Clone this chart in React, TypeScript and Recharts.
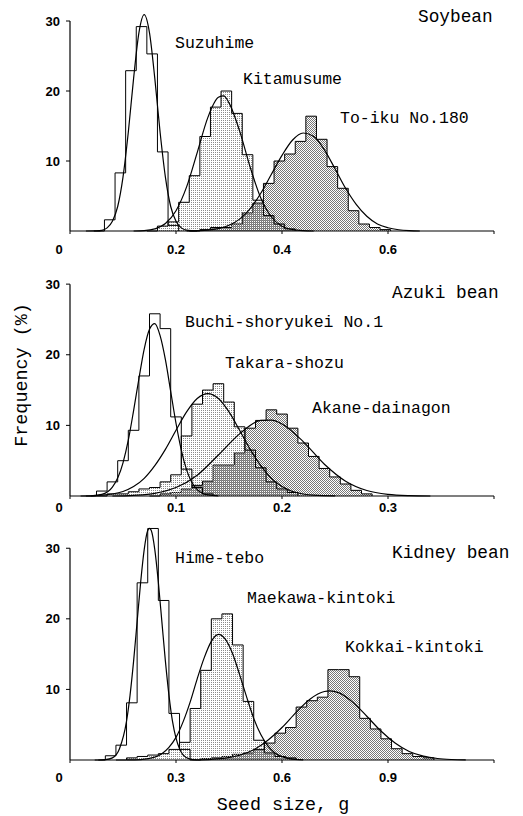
import React from 'react';
import { ComposedChart, Area, Line, XAxis, YAxis, ReferenceLine } from 'recharts';

// ---------- Panel 1: Soybean (bin width 0.02 g) ----------
const SOY_BIN = 0.02;
const suzuhimeStart = 0.045;
const suzuhimeFreq = [0, 1.6, 8.3, 22.9, 29.2, 25.3, 11.3, 0.8];
const kitamusumeStart = 0.145;
const kitamusumeFreq = [0, 0.7, 1.3, 4.1, 7.9, 13.5, 17.7, 20.0, 16.8, 10.9, 4.4, 2.2, 1.0, 0.3];
const toikuStart = 0.225;
const toikuFreq = [0, 0.2, 0.5, 0.5, 1.0, 2.6, 4.0, 6.8, 10.0, 11.0, 12.8, 16.4, 13.1, 9.2, 6.1, 2.9, 1.0, 0.5, 0.2];

const suzuhimeCurve: [number, number][] = [[0.03, 0], [0.05, 0.02], [0.06, 0.1], [0.07, 0.45], [0.08, 1.4], [0.09, 3.5], [0.10, 7.7], [0.11, 14.1], [0.12, 21.8], [0.13, 28.3], [0.14, 30.9], [0.15, 28.3], [0.16, 21.8], [0.17, 14.1], [0.18, 7.7], [0.19, 3.5], [0.20, 1.4], [0.21, 0.45], [0.22, 0.12], [0.24, 0.01]];
const kitamusumeCurve: [number, number][] = [[0.12, 0], [0.14, 0.05], [0.16, 0.3], [0.18, 1.06], [0.20, 2.9], [0.22, 6.3], [0.24, 11.2], [0.26, 16.2], [0.28, 19.1], [0.29, 19.3], [0.30, 18.3], [0.32, 14.3], [0.34, 9.1], [0.36, 4.7], [0.38, 2.0], [0.40, 0.67], [0.42, 0.19], [0.44, 0.04], [0.46, 0]];
const toikuCurve: [number, number][] = [[0.22, 0], [0.24, 0.05], [0.26, 0.13], [0.28, 0.35], [0.30, 0.82], [0.32, 1.7], [0.34, 3.2], [0.36, 5.4], [0.38, 8.1], [0.40, 10.8], [0.42, 13.0], [0.44, 14.0], [0.46, 13.5], [0.48, 11.6], [0.50, 8.9], [0.52, 6.1], [0.54, 3.8], [0.56, 2.1], [0.58, 1.0], [0.60, 0.46], [0.62, 0.18], [0.64, 0.05], [0.66, 0]];

// ---------- Panel 2: Azuki bean (bin width 0.01 g) ----------
const AZUKI_BIN = 0.01;
const buchiStart = 0.015;
const buchiFreq = [0, 0.7, 2.0, 5.0, 9.3, 17.0, 25.8, 23.7, 11.2, 3.8, 1.2, 0.3];
const takaraStart = 0.025;
const takaraFreq = [0, 0.3, 0.3, 0.6, 1.0, 1.2, 2.0, 3.0, 8.5, 13.0, 15.0, 15.9, 13.3, 9.8, 6.5, 4.0, 2.0, 1.0, 0.5];
const akaneStart = 0.075;
const akaneFreq = [0, 0.3, 0.5, 1.0, 1.5, 2.1, 4.4, 4.4, 6.1, 9.6, 10.7, 12.2, 11.6, 9.6, 7.5, 5.6, 3.9, 2.7, 1.7, 0.8, 0.3];

const buchiCurve: [number, number][] = [[0.01, 0], [0.02, 0.03], [0.03, 0.22], [0.04, 1.25], [0.05, 4.7], [0.055, 7.9], [0.06, 12.1], [0.065, 16.6], [0.07, 20.8], [0.075, 23.6], [0.08, 24.4], [0.085, 22.7], [0.09, 19.3], [0.095, 14.8], [0.10, 10.3], [0.105, 6.5], [0.11, 3.7], [0.12, 0.9], [0.13, 0.15], [0.14, 0.02]];
const takaraCurve: [number, number][] = [[0.02, 0.03], [0.03, 0.11], [0.04, 0.28], [0.05, 0.64], [0.06, 1.33], [0.07, 2.5], [0.08, 4.3], [0.09, 6.6], [0.10, 9.3], [0.11, 11.9], [0.12, 13.8], [0.13, 14.5], [0.14, 13.8], [0.15, 11.9], [0.16, 9.3], [0.17, 6.6], [0.18, 4.3], [0.19, 2.5], [0.20, 1.33], [0.21, 0.64], [0.22, 0.28], [0.23, 0.11], [0.25, 0.01]];
const akaneCurve: [number, number][] = [[0.04, 0], [0.06, 0.1], [0.08, 0.38], [0.10, 1.2], [0.12, 2.95], [0.14, 5.8], [0.16, 8.8], [0.18, 10.7], [0.19, 10.75], [0.20, 10.2], [0.22, 7.7], [0.24, 4.5], [0.26, 2.1], [0.28, 0.78], [0.30, 0.23], [0.32, 0.05], [0.34, 0]];

// ---------- Panel 3: Kidney bean (bin width 0.03 g) ----------
const KIDNEY_BIN = 0.03;
const himeStart = 0.07;
const himeFreq = [0, 0.6, 2.1, 8.1, 25.1, 32.8, 22.6, 6.6, 1.5];
const maekawaStart = 0.13;
const maekawaFreq = [0, 0.3, 0.5, 0.7, 0.9, 1.5, 2.5, 7.3, 12.7, 20.0, 20.7, 16.3, 8.3, 2.8, 1.0, 0.5, 0.3];
const kokkaiStart = 0.34;
const kokkaiFreq = [0, 0.2, 0.3, 0.5, 0.8, 1.0, 1.5, 2.4, 3.8, 4.6, 7.5, 8.4, 8.9, 12.8, 12.8, 11.8, 5.9, 4.4, 3.0, 1.6, 0.9, 0.5, 0.3];

const himeCurve: [number, number][] = [[0.08, 0], [0.10, 0.05], [0.12, 0.3], [0.14, 1.6], [0.16, 5.5], [0.17, 9.2], [0.18, 14.0], [0.19, 19.6], [0.20, 25.2], [0.21, 29.8], [0.22, 32.5], [0.225, 32.8], [0.23, 32.5], [0.24, 29.8], [0.25, 25.2], [0.26, 19.6], [0.27, 14.0], [0.28, 9.2], [0.29, 5.5], [0.30, 3.1], [0.31, 1.6], [0.32, 0.74], [0.34, 0.13], [0.36, 0.02]];
const maekawaCurve: [number, number][] = [[0.16, 0.01], [0.20, 0.06], [0.24, 0.4], [0.26, 0.9], [0.28, 1.8], [0.30, 3.2], [0.32, 5.4], [0.34, 8.2], [0.36, 11.5], [0.38, 14.5], [0.40, 16.8], [0.42, 17.8], [0.44, 17.1], [0.46, 15.1], [0.48, 12.1], [0.50, 8.9], [0.52, 5.9], [0.54, 3.6], [0.56, 2.0], [0.58, 1.0], [0.60, 0.47], [0.62, 0.2], [0.66, 0.03]];
const kokkaiCurve: [number, number][] = [[0.36, 0.02], [0.40, 0.1], [0.44, 0.27], [0.48, 0.67], [0.52, 1.45], [0.56, 2.8], [0.60, 4.6], [0.64, 6.75], [0.68, 8.65], [0.72, 9.7], [0.735, 9.8], [0.76, 9.55], [0.80, 8.2], [0.84, 6.2], [0.88, 4.1], [0.92, 2.4], [0.96, 1.2], [1.00, 0.54], [1.04, 0.21], [1.08, 0.07], [1.12, 0.02]];

// ---------- Axis ticks & labels ----------
const soyTicks = [0, 0.2, 0.4, 0.6, 0.8];
const soyTickLabels = ['0', '0.2', '0.4', '0.6', ''];
const azukiTicks = [0, 0.1, 0.2, 0.3, 0.4];
const azukiTickLabels = ['0', '0.1', '0.2', '0.3', ''];
const kidneyTicks = [0, 0.3, 0.6, 0.9, 1.2];
const kidneyTickLabels = ['0', '0.3', '0.6', '0.9', ''];
const freqTicks = [10, 20, 30];

const MONO = '"Liberation Mono", "DejaVu Sans Mono", monospace';
const SANS = '"Liberation Sans", Arial, sans-serif';

type Hist = { key: string; start: number; bin: number; values: number[] };
type Curve = { key: string; points: [number, number][] };

function buildRows(hists: Hist[], curves: Curve[]) {
  const map = new Map<number, any>();
  const put = (x: number, key: string, v: number) => {
    const k = Math.round(x * 10000) / 10000;
    if (!map.has(k)) map.set(k, { x: k });
    map.get(k)[key] = v;
  };
  hists.forEach((h) => {
    h.values.forEach((v, i) => put(h.start + i * h.bin, h.key, v));
    put(h.start + h.values.length * h.bin, h.key, 0);
  });
  curves.forEach((c) => c.points.forEach(([x, y]) => put(x, c.key, y)));
  return Array.from(map.values()).sort((a, b) => a.x - b.x);
}

const makeXTick = (ticks: number[], labels: string[]) => (props: any) => {
  const { x, y, payload } = props;
  const idx = ticks.findIndex((t) => Math.abs(t - payload.value) < 1e-9);
  const label = idx >= 0 ? labels[idx] : '';
  const dx = payload.value === 0 ? -11 : 0;
  return (
    <text x={x + dx} y={y} dy="0.71em" textAnchor="middle" fill="#000" fontSize={13} fontWeight={700} fontFamily={SANS}>
      {label}
    </text>
  );
};

type PanelProps = {
  id: string;
  top: number;
  height: number;
  marginTop: number;
  xAxisHeight: number;
  tickMargin: number;
  xMax: number;
  yMax: number;
  ticks: number[];
  tickLabels: string[];
  rows: any[];
};

function Panel({ id, top, height, marginTop, xAxisHeight, tickMargin, xMax, yMax, ticks, tickLabels, rows }: PanelProps) {
  const XTick = makeXTick(ticks, tickLabels);
  return (
    <div style={{ position: 'absolute', left: 0, top }}>
      <ComposedChart width={523} height={height} data={rows} margin={{ top: marginTop, right: 29, bottom: 0, left: 0 }}>
        <defs>
          <pattern id={`${id}-light`} width="2" height="2" patternUnits="userSpaceOnUse">
            <rect x="1" y="0" width="1" height="1" fill="#8a8a8a" />
          </pattern>
          <pattern id={`${id}-dense`} width="2" height="2" patternUnits="userSpaceOnUse">
            <rect x="0" y="0" width="1" height="1" fill="#777" />
            <rect x="1" y="1" width="1" height="1" fill="#777" />
          </pattern>
        </defs>
        <XAxis
          type="number"
          dataKey="x"
          domain={[0, xMax]}
          ticks={ticks}
          interval={0}
          height={xAxisHeight}
          tickSize={3}
          tickMargin={tickMargin}
          axisLine={{ stroke: '#000', strokeWidth: 1.2 }}
          tickLine={{ stroke: '#000' }}
          tick={<XTick />}
        />
        <YAxis
          type="number"
          domain={[0, yMax]}
          ticks={freqTicks}
          interval={0}
          width={70}
          axisLine={false}
          tickSize={4}
          tickMargin={6}
          tickLine={{ stroke: '#000' }}
          tick={{ fill: '#000', fontSize: 13, fontWeight: 700, fontFamily: SANS }}
        />
        <ReferenceLine segment={[{ x: 0, y: 0 }, { x: 0, y: 30 }]} stroke="#000" strokeWidth={1.2} />
        <Area type="stepAfter" dataKey="h3" stroke="#000" strokeWidth={1} fill={`url(#${id}-dense)`} fillOpacity={1} connectNulls dot={false} activeDot={false} isAnimationActive={false} />
        <Area type="stepAfter" dataKey="h2" stroke="#000" strokeWidth={1} fill={`url(#${id}-light)`} fillOpacity={1} connectNulls dot={false} activeDot={false} isAnimationActive={false} />
        <Area type="stepAfter" dataKey="h1" stroke="#000" strokeWidth={1} fill="none" connectNulls dot={false} activeDot={false} isAnimationActive={false} />
        <Line type="monotone" dataKey="c1" stroke="#000" strokeWidth={1.2} dot={false} activeDot={false} connectNulls isAnimationActive={false} />
        <Line type="monotone" dataKey="c2" stroke="#000" strokeWidth={1.2} dot={false} activeDot={false} connectNulls isAnimationActive={false} />
        <Line type="monotone" dataKey="c3" stroke="#000" strokeWidth={1.2} dot={false} activeDot={false} connectNulls isAnimationActive={false} />
      </ComposedChart>
    </div>
  );
}

const soyRows = buildRows(
  [
    { key: 'h1', start: suzuhimeStart, bin: SOY_BIN, values: suzuhimeFreq },
    { key: 'h2', start: kitamusumeStart, bin: SOY_BIN, values: kitamusumeFreq },
    { key: 'h3', start: toikuStart, bin: SOY_BIN, values: toikuFreq },
  ],
  [
    { key: 'c1', points: suzuhimeCurve },
    { key: 'c2', points: kitamusumeCurve },
    { key: 'c3', points: toikuCurve },
  ]
);

const azukiRows = buildRows(
  [
    { key: 'h1', start: buchiStart, bin: AZUKI_BIN, values: buchiFreq },
    { key: 'h2', start: takaraStart, bin: AZUKI_BIN, values: takaraFreq },
    { key: 'h3', start: akaneStart, bin: AZUKI_BIN, values: akaneFreq },
  ],
  [
    { key: 'c1', points: buchiCurve },
    { key: 'c2', points: takaraCurve },
    { key: 'c3', points: akaneCurve },
  ]
);

const kidneyRows = buildRows(
  [
    { key: 'h1', start: himeStart, bin: KIDNEY_BIN, values: himeFreq },
    { key: 'h2', start: maekawaStart, bin: KIDNEY_BIN, values: maekawaFreq },
    { key: 'h3', start: kokkaiStart, bin: KIDNEY_BIN, values: kokkaiFreq },
  ],
  [
    { key: 'c1', points: himeCurve },
    { key: 'c2', points: maekawaCurve },
    { key: 'c3', points: kokkaiCurve },
  ]
);

const varietyLabels: { text: string; x: number; y: number }[] = [
  { text: 'Suzuhime', x: 175, y: 43 },
  { text: 'Kitamusume', x: 243, y: 79 },
  { text: 'To-iku No.180', x: 340, y: 118 },
  { text: 'Buchi-shoryukei No.1', x: 185, y: 322 },
  { text: 'Takara-shozu', x: 225, y: 363 },
  { text: 'Akane-dainagon', x: 312, y: 408 },
  { text: 'Hime-tebo', x: 175, y: 558 },
  { text: 'Maekawa-kintoki', x: 247, y: 598 },
  { text: 'Kokkai-kintoki', x: 345, y: 647 },
];
const groupLabels: { text: string; x: number; y: number }[] = [
  { text: 'Soybean', x: 418, y: 17 },
  { text: 'Azuki bean', x: 392, y: 293 },
  { text: 'Kidney bean', x: 392, y: 553 },
];

export default function App() {
  return (
    <div style={{ position: 'absolute', left: 0, top: 0, width: 523, height: 816, background: '#fff', overflow: 'hidden' }}>
      <Panel id="soy" top={0} height={262} marginTop={7} xAxisHeight={31} tickMargin={11} xMax={0.8} yMax={32} ticks={soyTicks} tickLabels={soyTickLabels} rows={soyRows} />
      <Panel id="azuki" top={262} height={264} marginTop={8} xAxisHeight={30} tickMargin={4} xMax={0.4} yMax={32} ticks={azukiTicks} tickLabels={azukiTickLabels} rows={azukiRows} />
      <Panel id="kidney" top={512} height={304} marginTop={8} xAxisHeight={56} tickMargin={10} xMax={1.2} yMax={34} ticks={kidneyTicks} tickLabels={kidneyTickLabels} rows={kidneyRows} />
      <svg width={523} height={816} style={{ position: 'absolute', left: 0, top: 0, pointerEvents: 'none' }}>
        {varietyLabels.map((l) => (
          <text key={l.text} x={l.x} y={l.y} dominantBaseline="central" fontFamily={MONO} fontSize={16.5} fill="#000">
            {l.text}
          </text>
        ))}
        {groupLabels.map((l) => (
          <text key={l.text} x={l.x} y={l.y} dominantBaseline="central" fontFamily={MONO} fontSize={17.8} fill="#000">
            {l.text}
          </text>
        ))}
        <text transform="translate(22,375) rotate(-90)" textAnchor="middle" dominantBaseline="central" fontFamily={MONO} fontSize={18.4} fill="#000">
          Frequency (%)
        </text>
        <text x={283} y={805} textAnchor="middle" dominantBaseline="central" fontFamily={MONO} fontSize={18.4} fill="#000">
          Seed size, g
        </text>
      </svg>
    </div>
  );
}
